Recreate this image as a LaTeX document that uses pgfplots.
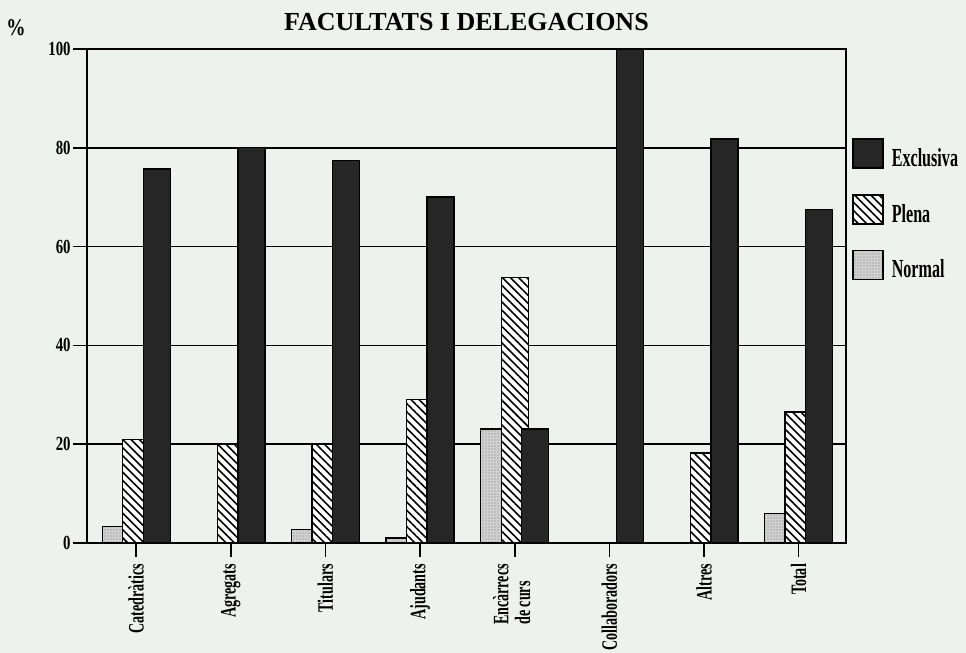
\documentclass[border=0pt]{standalone}
\usepackage{fontspec}
\setmainfont{Liberation Serif}
\usepackage{graphicx}
\usepackage{pgfplots}
\pgfplotsset{compat=1.18}
\usetikzlibrary{patterns,patterns.meta}
\definecolor{paper}{RGB}{237,242,238}
\definecolor{excl}{RGB}{38,38,38}
\newcommand\cn[2][0.64]{\scalebox{#1}[1]{#2}}

\begin{document}
\begin{tikzpicture}
\path[use as bounding box, fill=paper] (-43.5pt,-55pt) rectangle (439.5pt,271.5pt);
\begin{axis}[
  at={(0,0)}, anchor=south west,
  scale only axis, width=379.5pt, height=247pt,
  xmin=-0.52, xmax=7.5, ymin=0, ymax=100,
  xtick={0,...,7},
  xticklabels={\cn{Catedràtics},\cn{Agregats},\cn{Titulars},\cn{Ajudants},{\cn{\begin{tabular}{@{}l@{}}Encàrrecs\\de curs\end{tabular}}},\cn{Collaboradors},\cn{Altres},\cn{Total}},
  ytick={0,20,...,100},
  ymajorgrids, grid style={black, line width=0.8pt},
  axis line style={line width=0.8pt},
  tick style={black, line width=0.8pt},
  major tick length=7pt, tick align=outside,
  xtick pos=bottom, ytick pos=left,
  xticklabel style={rotate=90, anchor=east, font=\fontsize{11}{10.5}\selectfont\bfseries},
  yticklabel style={font=\fontsize{10}{11}\selectfont\bfseries, inner sep=1pt},
  /pgf/number format/assume math mode=true,
  yticklabel={\cn[0.74]{\pgfmathprintnumber{\tick}}},
  title={FACULTATS I DELEGACIONS},
  title style={at={(0.5,1)}, anchor=base, yshift=3pt, font=\fontsize{13}{15}\selectfont\bfseries},
  ylabel={\cn[0.8]{\%}},
  ylabel style={rotate=-90, at={(axis description cs:-0.0935,1.0435)}, anchor=center, font=\fontsize{12}{13}\selectfont\bfseries},
  ybar, bar width=13.5pt,
  legend style={at={(1.0079,0.8198)}, anchor=north west, draw=none, fill=none, inner sep=0pt,
    row sep=12.5pt, column sep=4pt, font=\fontsize{13}{14}\selectfont\bfseries, nodes={inner sep=0pt}},
  legend cell align=left,
  reverse legend,
  legend image code/.code={\draw[#1, line width=0.7pt] (0pt,-4.7pt) rectangle (15pt,9.8pt);},
]
\addplot[bar shift=-10.25pt, draw=black, line width=0.7pt,
  preaction={fill=black!18},
  pattern={Dots[distance=1.5pt,radius=0.35pt]}, pattern color=black!50]
  coordinates {(0,3.4) (2,2.7) (3,1.0) (4,23.1) (7,6.0)};
\addlegendentry{\cn[0.62]{Normal}}
\addplot[bar shift=0pt, draw=black, line width=0.7pt,
  preaction={fill=white},
  pattern={Lines[angle=-45,distance=2.9pt,line width=0.8pt]}, pattern color=black]
  coordinates {(0,20.9) (1,20.0) (2,19.9) (3,29.0) (4,53.8) (6,18.2) (7,26.5)};
\addlegendentry{\cn[0.62]{Plena}}
\addplot[bar shift=10.25pt, fill=excl, draw=black, line width=0.7pt]
  coordinates {(0,75.7) (1,80) (2,77.4) (3,70.0) (4,23.1) (5,100) (6,81.8) (7,67.5)};
\addlegendentry{\cn[0.62]{Exclusiva}}
\end{axis}
\end{tikzpicture}
\end{document}
